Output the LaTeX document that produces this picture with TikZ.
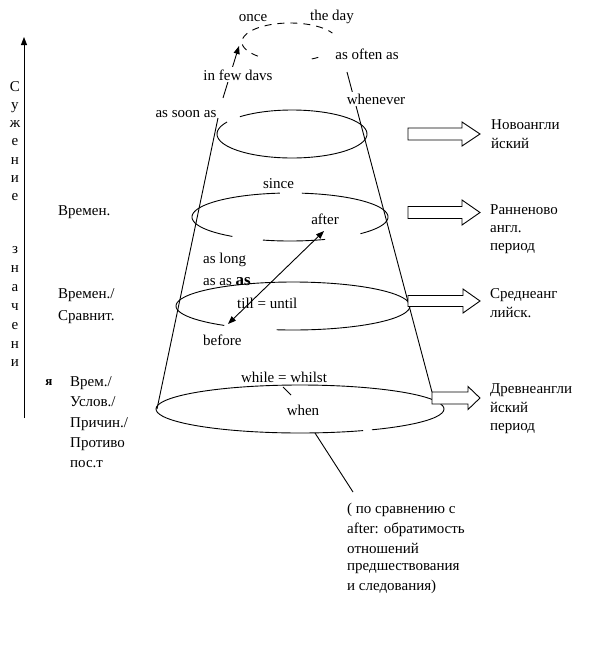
\documentclass[tikz,border=0pt]{standalone}
\usepackage{fontspec}
\setmainfont{Liberation Serif}
\usetikzlibrary{arrows.meta}
\newcommand\earc[6]{\draw[ln] plot[domain=#5:#6, samples=80, smooth] ({#1+#3*cos(\x)},{#2+#4*sin(\x)});}
\newcommand\blockarr[6]{\draw[blk] (#1,#4-#5) -- (#2,#4-#5) -- (#2,#4-#6) -- (#3,#4) -- (#2,#4+#6) -- (#2,#4+#5) -- (#1,#4+#5) -- cycle;}
\begin{document}
\begin{tikzpicture}[x=1pt,y=-1pt,
  txt/.style={font=\fontsize{15}{18}\selectfont, inner sep=0pt, anchor=base},
  ltxt/.style={txt, anchor=base west},
  mask/.style={fill=white, inner sep=2pt},
  ln/.style={line width=0.9pt},
  blk/.style={draw, fill=white, line width=0.9pt},
  tip/.style={-{Triangle[length=8pt,width=6pt]}},
  dtip/.style={{Triangle[length=8pt,width=6pt]}-{Triangle[length=8pt,width=6pt]}}]
\useasboundingbox (0,0) rectangle (589,649);
\fill[white] (0,0) rectangle (589,649);

% ellipses (cone sections)
\earc{292}{134}{75}{24}{226}{570}
\earc{290}{217}{98}{24}{277}{404}
\earc{290}{217}{98}{24}{69}{106}
\earc{290}{217}{98}{24}{126}{264}
\earc{293}{306}{117}{24}{126}{458}
\earc{300}{409}{144}{24}{64}{420}
% dashed top ellipse
\draw[ln, dash pattern=on 7pt off 6pt] plot[domain=132:332, samples=60, smooth] ({290+48*cos(\x)},{42+19*sin(\x)});
\draw[ln] plot[domain=54:63, samples=10, smooth] ({290+48*cos(\x)},{42+19*sin(\x)});

% cone edges
\coordinate (cl1) at (157,409); \coordinate (cl2) at (218,118);
\coordinate (cr1) at (432,392); \coordinate (cr2) at (347,72);
\coordinate (ar1) at (223,98); \coordinate (ar2) at (239,46);
\draw[ln] (cl1) -- (cl2);
\draw[ln] (cr1) -- (cr2);
\draw[ln,tip] (ar1) -- (ar2);

% double arrow after <-> before
\coordinate (da1) at (324,231); \coordinate (da2) at (228,324);
\draw[ln,dtip] (da2) -- (da1);

% small lines
\coordinate (t1) at (283,387); \coordinate (t2) at (291,395);
\draw[ln] (t1) -- (t2);
\coordinate (p1) at (315,433); \coordinate (p2) at (353,492);
\draw[ln] (p1) -- (p2);

% vertical axis arrow
\coordinate (va1) at (24,418); \coordinate (va2) at (24,37);
\draw[ln,tip] (va1) -- (va2);

% block arrows
\blockarr{408}{462}{480}{134}{6}{12}
\blockarr{408}{462}{480}{212.5}{6}{12.5}
\blockarr{408}{463}{480}{301}{5.5}{12}
\blockarr{432}{468}{480}{398}{6}{11.5}

% texts in the cone
\node[txt] (once) at (253,21) {once};
\node[txt] (day) at (332,20) {the day};
\node[txt,mask] (often) at (367,59) {as often as};
\node[txt,mask] (few) at (238,80) {in few davs};
\node[txt,mask] (whenever) at (376,104) {whenever};
\node[txt] (soon) at (186,117) {as soon as};
\node[txt] (since) at (278.5,188) {since};
\node[txt] (after) at (325,224) {after};
\node[ltxt] (long) at (203,263) {as long};
\node[ltxt] (asas) at (203,285) {as as {\fontsize{17}{17}\selectfont\bfseries as}};
\node[ltxt] (till) at (237,308) {till = until};
\node[ltxt] (before) at (203,345) {before};
\node[txt] (while) at (284,382) {while = whilst};
\node[txt] (when) at (303,415) {when};

% left texts
\node[ltxt] (vr1) at (58,215) {Времен.};
\node[ltxt] (vr2) at (58,298) {Времен./};
\node[ltxt] (sr) at (58,320) {Сравнит.};
\node[txt, font=\fontsize{13}{15}\selectfont\bfseries] (ya) at (49,385) {я};
\node[ltxt] (l1) at (70,386) {Врем./};
\node[ltxt] (l2) at (70,406) {Услов./};
\node[ltxt] (l3) at (70,427) {Причин./};
\node[ltxt] (l4) at (70,447) {Противо};
\node[ltxt] (l5) at (70,467) {пос.т};

% vertical letters
\foreach \l [count=\i] in {С,у,ж,е,н,и,е}
  \node[txt] (va\i) at (15,{91+18.3*(\i-1)}) {\l};
\foreach \l [count=\i] in {з,н,а,ч,е,н,и}
  \node[txt] (vb\i) at (15,{253.5+18.9*(\i-1)}) {\l};

% right texts
\node[ltxt] (r1a) at (491,129) {Новоангли};
\node[ltxt] (r1b) at (491,148) {йский};
\node[ltxt] (r2a) at (490,214) {Ранненово};
\node[ltxt] (r2b) at (490,232) {англ.};
\node[ltxt] (r2c) at (490,250) {период};
\node[ltxt] (r3a) at (490,298) {Среднеанг};
\node[ltxt] (r3b) at (490,317) {лийск.};
\node[ltxt] (r4a) at (490,393) {Древнеангли};
\node[ltxt] (r4b) at (490,412) {йский};
\node[ltxt] (r4c) at (490,430) {период};

% comment
\node[ltxt] (c1) at (347,513) {( по сравнению с};
\node[ltxt] (c2) at (347,533) {after: обратимость};
\node[ltxt] (c3) at (347,553) {отношений};
\node[ltxt] (c4) at (347,570) {предшествования};
\node[ltxt] (c5) at (347,590) {и следования)};
\end{tikzpicture}
\end{document}
